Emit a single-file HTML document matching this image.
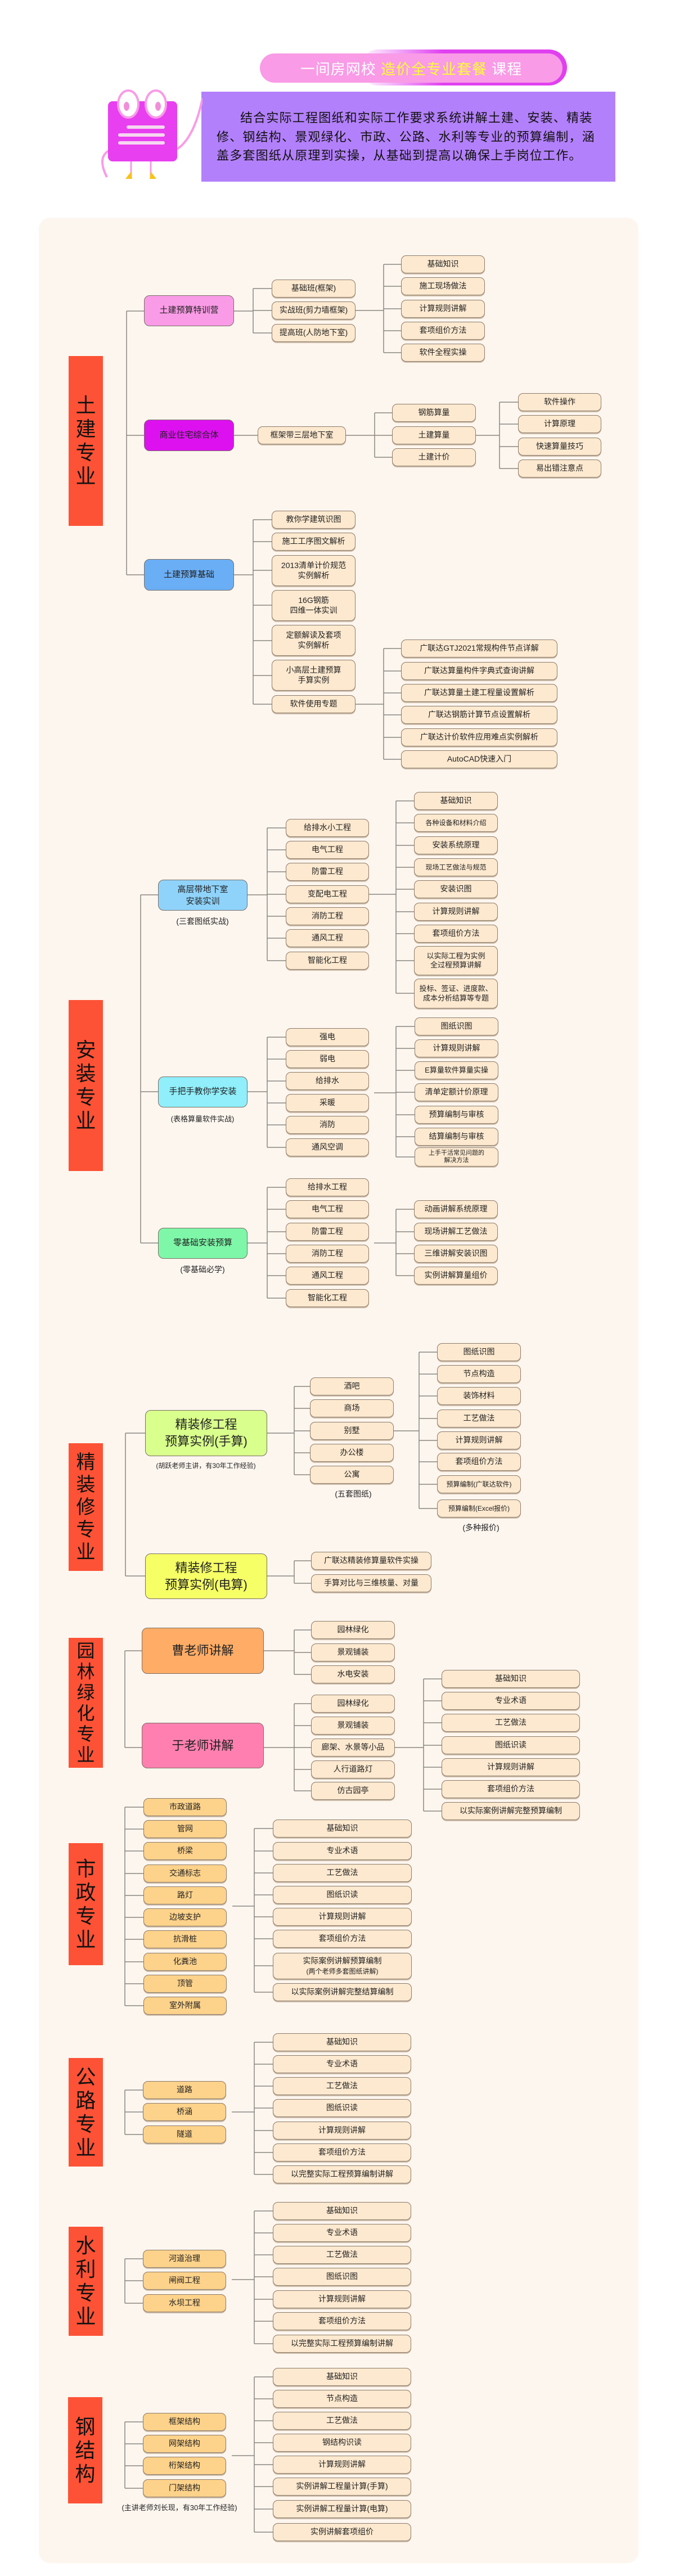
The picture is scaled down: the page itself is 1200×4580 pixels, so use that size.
<!DOCTYPE html>
<html><head><meta charset="utf-8">
<style>
*{margin:0;padding:0;box-sizing:border-box}
body{width:1200px;height:4580px;background:#fff;position:relative;font-family:"Liberation Sans","Noto Sans CJK SC",sans-serif;overflow:hidden}
.a{position:absolute}
.n{position:absolute;height:32px;background:#fde9cf;border:1px solid #8c7b6b;border-radius:9px;box-shadow:0 2px 0 #cdbda9;display:flex;align-items:center;justify-content:center;text-align:center;font-size:14px;color:#222;line-height:1.25;white-space:nowrap}
.o{background:#fdd28a}
.r{position:absolute;left:122px;width:61px;background:#fd5235;display:flex;flex-direction:column;align-items:center;justify-content:center;font-size:36px;line-height:42px;color:#111}
.l1{position:absolute;border:1px solid #7a6e64;border-radius:10px;display:flex;align-items:center;justify-content:center;text-align:center;font-size:15px;color:#222;line-height:1.5}
.big{font-size:22px;line-height:1.35}
.s{position:absolute;font-size:13px;color:#222;text-align:center;white-space:nowrap;transform:translateX(-50%)}
</style></head><body>

<!-- header -->
<div class="a" style="left:640px;top:88px;width:368px;height:64px;border-radius:32px;background:linear-gradient(90deg,rgba(224,64,240,0),#e040f0 40%)"></div>
<div class="a" style="left:462px;top:95px;width:538px;height:52px;border-radius:26px;background:#f99be6;display:flex;align-items:center;justify-content:center;font-size:26px;color:#fff;letter-spacing:1px">一间房网校&nbsp;<span style="color:#ffff33">造价全专业套餐</span>&nbsp;课程</div>
<div class="a" style="left:358px;top:163px;width:736px;height:160px;background:#b380fb"></div>
<div class="a" style="left:385px;top:193px;width:700px;font-size:22px;line-height:33.5px;letter-spacing:1.2px;color:#111;white-space:nowrap"><span style="padding-left:42px"></span>结合实际工程图纸和实际工作要求系统讲解土建、安装、精装<br>修、钢结构、景观绿化、市政、公路、水利等专业的预算编制，涵<br>盖多套图纸从原理到实操，从基础到提高以确保上手岗位工作。</div>
<svg class="a" style="left:160px;top:155px" width="200" height="170">
<path d="M40 110 Q10 120 30 160" stroke="#f99be6" stroke-width="4" fill="none"/>
<path d="M155 110 Q185 90 200 20" stroke="#f99be6" stroke-width="4" fill="none"/>
<rect x="32" y="25" width="123" height="107" rx="8" fill="#e83ff0"/>
<ellipse cx="68" cy="30" rx="18" ry="24" fill="#fff" stroke="#f99be6" stroke-width="4"/>
<ellipse cx="117" cy="30" rx="18" ry="24" fill="#fff" stroke="#f99be6" stroke-width="4"/>
<ellipse cx="65" cy="34" rx="5" ry="8" fill="#f08fd8"/>
<ellipse cx="121" cy="34" rx="5" ry="8" fill="#f08fd8"/>
<rect x="65" y="68" width="68" height="6" rx="3" fill="#f6d6f0"/>
<rect x="50" y="82" width="83" height="6" rx="3" fill="#f6d6f0"/>
<rect x="50" y="96" width="83" height="6" rx="3" fill="#f6d6f0"/>
<line x1="73" y1="132" x2="73" y2="158" stroke="#f99be6" stroke-width="3"/>
<line x1="108" y1="132" x2="108" y2="158" stroke="#f99be6" stroke-width="3"/>
<path d="M73 150 L63 163 L75 163Z" fill="#f8c21a"/>
<path d="M108 150 L118 163 L106 163Z" fill="#f8c21a"/>
</svg>

<!-- panel -->
<div class="a" style="left:69px;top:387px;width:1066px;height:4170px;background:#fdf6ef;border-radius:20px"></div>

<svg class="a" style="left:0;top:0" width="1200" height="4580" fill="none" stroke="#8a8580" stroke-width="1.5">
<path d="M225 553V1022M225 553H256M225 774H256M225 1022H256"/>
<path d="M416 553H450M450 513V592M450 513H483M450 552H483M450 592H483"/>
<path d="M632 552H682M682 470V627M682 470H713M682 509H713M682 549H713M682 588H713M682 627H713"/>
<path d="M416 774H458M615 774H666M666 734V813M666 734H697M666 774H697M666 813H697"/>
<path d="M846 774H888M888 715V833M888 715H921M888 754H921M888 794H921M888 833H921"/>
<path d="M416 1022H450M450 924V1252M450 924H483M450 963H483M450 1014H483M450 1076H483M450 1139H483M450 1201H483M450 1252H483"/>
<path d="M632 1252H682M682 1153V1350M682 1153H713M682 1193H713M682 1232H713M682 1271H713M682 1311H713M682 1350H713"/>

<path d="M250 1591V2210M250 1591H281M250 1941H281M250 2210H281"/>
<path d="M440 1591H475M475 1472V1708M475 1472H508M475 1511H508M475 1550H508M475 1590H508M475 1629H508M475 1668H508M475 1708H508"/>
<path d="M656 1590H704M704 1424V1766M704 1424H736M704 1463H736M704 1503H736M704 1542H736M704 1581H736M704 1621H736M704 1660H736M704 1708H736M704 1766H736"/>
<path d="M440 1941H475M475 1844V2040M475 1844H508M475 1883H508M475 1922H508M475 1961H508M475 2000H508M475 2040H508"/>
<path d="M665 1943H704M704 1825V2057M704 1825H737M704 1864H737M704 1903H737M704 1942H737M704 1982H737M704 2021H737M704 2057H737"/>
<path d="M440 2210H475M475 2111V2308M475 2111H508M475 2150H508M475 2190H508M475 2229H508M475 2268H508M475 2308H508"/>
<path d="M665 2210H704M704 2150V2268M704 2150H736M704 2190H736M704 2229H736M704 2268H736"/>

<path d="M223 2548V2802M223 2548H258M223 2802H258"/>
<path d="M475 2548H523M523 2465V2622M523 2465H551M523 2504H551M523 2544H551M523 2583H551M523 2622H551"/>
<path d="M700 2544H745M745 2404V2682M745 2404H777M745 2443H777M745 2482H777M745 2522H777M745 2561H777M745 2599H777M745 2639H777M745 2682H777"/>
<path d="M475 2802H523M523 2775V2815M523 2775H553M523 2815H553"/>

<path d="M222 2935V3107M222 2935H252M222 3107H252"/>
<path d="M469 2935H523M523 2898V2977M523 2898H553M523 2938H553M523 2977H553"/>
<path d="M469 3107H523M523 3029V3184M523 3029H553M523 3068H553M523 3107H553M523 3146H553M523 3184H553"/>
<path d="M702 3107H753M753 2985V3220M753 2985H785M753 3024H785M753 3063H785M753 3103H785M753 3142H785M753 3181H785M753 3220H785"/>

<path d="M222 3213V3566M222 3213H255M222 3252H255M222 3291H255M222 3331H255M222 3370H255M222 3409H255M222 3448H255M222 3488H255M222 3527H255M222 3566H255"/>
<path d="M413 3389H452M452 3251V3542M452 3251H485M452 3291H485M452 3330H485M452 3369H485M452 3408H485M452 3447H485M452 3495H485M452 3542H485"/>

<path d="M222 3716V3795M222 3716H254M222 3755H254M222 3795H254"/>
<path d="M412 3755H452M452 3631V3866M452 3631H485M452 3670H485M452 3709H485M452 3748H485M452 3788H485M452 3827H485M452 3866H485"/>

<path d="M222 4016V4095M222 4016H254M222 4055H254M222 4095H254"/>
<path d="M412 4053H452M452 3931V4167M452 3931H485M452 3970H485M452 4009H485M452 4048H485M452 4088H485M452 4127H485M452 4167H485"/>

<path d="M222 4306V4424M222 4306H254M222 4345H254M222 4384H254M222 4424H254"/>
<path d="M412 4366H452M452 4226V4502M452 4226H485M452 4265H485M452 4304H485M452 4343H485M452 4382H485M452 4421H485M452 4461H485M452 4502H485"/>
</svg>

<!-- 土建 -->
<div class="r" style="top:633px;height:302px"><div>土</div><div>建</div><div>专</div><div>业</div></div>
<div class="l1" style="left:256px;top:525px;width:160px;height:55px;background:#f99be6">土建预算特训营</div>
<div class="l1" style="left:256px;top:746px;width:160px;height:56px;background:#dd11f0">商业住宅综合体</div>
<div class="l1" style="left:256px;top:994px;width:160px;height:56px;background:#6aaef5">土建预算基础</div>
<div class="n" style="left:483px;top:497px;width:149px">基础班(框架)</div>
<div class="n" style="left:483px;top:536px;width:149px">实战班(剪力墙框架)</div>
<div class="n" style="left:483px;top:576px;width:149px">提高班(人防地下室)</div>
<div class="n" style="left:713px;top:454px;width:149px">基础知识</div>
<div class="n" style="left:713px;top:493px;width:149px">施工现场做法</div>
<div class="n" style="left:713px;top:533px;width:149px">计算规则讲解</div>
<div class="n" style="left:713px;top:572px;width:149px">套项组价方法</div>
<div class="n" style="left:713px;top:611px;width:149px">软件全程实操</div>
<div class="n" style="left:458px;top:758px;width:157px">框架带三层地下室</div>
<div class="n" style="left:697px;top:718px;width:149px">钢筋算量</div>
<div class="n" style="left:697px;top:758px;width:149px">土建算量</div>
<div class="n" style="left:697px;top:797px;width:149px">土建计价</div>
<div class="n" style="left:921px;top:699px;width:148px">软件操作</div>
<div class="n" style="left:921px;top:738px;width:148px">计算原理</div>
<div class="n" style="left:921px;top:778px;width:148px">快速算量技巧</div>
<div class="n" style="left:921px;top:817px;width:148px">易出错注意点</div>
<div class="n" style="left:483px;top:908px;width:149px">教你学建筑识图</div>
<div class="n" style="left:483px;top:947px;width:149px">施工工序图文解析</div>
<div class="n" style="left:483px;top:987px;width:149px;height:55px"><div>2013清单计价规范<br>实例解析</div></div>
<div class="n" style="left:483px;top:1049px;width:149px;height:55px"><div>16G钢筋<br>四维一体实训</div></div>
<div class="n" style="left:483px;top:1111px;width:149px;height:55px"><div>定额解读及套项<br>实例解析</div></div>
<div class="n" style="left:483px;top:1173px;width:149px;height:55px"><div>小高层土建预算<br>手算实例</div></div>
<div class="n" style="left:483px;top:1236px;width:149px">软件使用专题</div>
<div class="n" style="left:713px;top:1137px;width:278px">广联达GTJ2021常规构件节点详解</div>
<div class="n" style="left:713px;top:1177px;width:278px">广联达算量构件字典式查询讲解</div>
<div class="n" style="left:713px;top:1216px;width:278px">广联达算量土建工程量设置解析</div>
<div class="n" style="left:713px;top:1255px;width:278px">广联达钢筋计算节点设置解析</div>
<div class="n" style="left:713px;top:1295px;width:278px">广联达计价软件应用难点实例解析</div>
<div class="n" style="left:713px;top:1334px;width:278px">AutoCAD快速入门</div>

<!-- 安装 -->
<div class="r" style="top:1778px;height:304px"><div>安</div><div>装</div><div>专</div><div>业</div></div>
<div class="l1" style="left:281px;top:1564px;width:159px;height:55px;background:#8fd3fb;line-height:1.4"><div>高层带地下室<br>安装实训</div></div>
<div class="s" style="left:360px;top:1628px;font-size:14px">(三套图纸实战)</div>
<div class="l1" style="left:281px;top:1914px;width:159px;height:55px;background:#90effb">手把手教你学安装</div>
<div class="s" style="left:360px;top:1979px">(表格算量软件实战)</div>
<div class="l1" style="left:281px;top:2183px;width:159px;height:55px;background:#7ef7a8">零基础安装预算</div>
<div class="s" style="left:360px;top:2247px;font-size:14px">(零基础必学)</div>
<div class="n" style="left:508px;top:1456px;width:148px">给排水小工程</div>
<div class="n" style="left:508px;top:1495px;width:148px">电气工程</div>
<div class="n" style="left:508px;top:1534px;width:148px">防雷工程</div>
<div class="n" style="left:508px;top:1574px;width:148px">变配电工程</div>
<div class="n" style="left:508px;top:1613px;width:148px">消防工程</div>
<div class="n" style="left:508px;top:1652px;width:148px">通风工程</div>
<div class="n" style="left:508px;top:1692px;width:148px">智能化工程</div>
<div class="n" style="left:736px;top:1408px;width:149px">基础知识</div>
<div class="n" style="left:736px;top:1447px;width:149px;font-size:12px">各种设备和材料介绍</div>
<div class="n" style="left:736px;top:1487px;width:149px">安装系统原理</div>
<div class="n" style="left:736px;top:1526px;width:149px;font-size:12px">现场工艺做法与规范</div>
<div class="n" style="left:736px;top:1565px;width:149px">安装识图</div>
<div class="n" style="left:736px;top:1605px;width:149px">计算规则讲解</div>
<div class="n" style="left:736px;top:1644px;width:149px">套项组价方法</div>
<div class="n" style="left:736px;top:1682px;width:149px;height:52px;font-size:13px"><div>以实际工程为实例<br>全过程预算讲解</div></div>
<div class="n" style="left:736px;top:1740px;width:149px;height:53px;font-size:13px"><div>投标、签证、进度款、<br>成本分析结算等专题</div></div>
<div class="n" style="left:508px;top:1828px;width:148px">强电</div>
<div class="n" style="left:508px;top:1867px;width:148px">弱电</div>
<div class="n" style="left:508px;top:1906px;width:148px">给排水</div>
<div class="n" style="left:508px;top:1945px;width:148px">采暖</div>
<div class="n" style="left:508px;top:1984px;width:148px">消防</div>
<div class="n" style="left:508px;top:2024px;width:148px">通风空调</div>
<div class="n" style="left:737px;top:1809px;width:149px">图纸识图</div>
<div class="n" style="left:737px;top:1848px;width:149px">计算规则讲解</div>
<div class="n" style="left:737px;top:1887px;width:149px;font-size:13px">E算量软件算量实操</div>
<div class="n" style="left:737px;top:1926px;width:149px">清单定额计价原理</div>
<div class="n" style="left:737px;top:1966px;width:149px">预算编制与审核</div>
<div class="n" style="left:737px;top:2005px;width:149px">结算编制与审核</div>
<div class="n" style="left:737px;top:2040px;width:149px;height:34px;font-size:11px;line-height:1.2"><div>上手干活常见问题的<br>解决方法</div></div>
<div class="n" style="left:508px;top:2095px;width:148px">给排水工程</div>
<div class="n" style="left:508px;top:2134px;width:148px">电气工程</div>
<div class="n" style="left:508px;top:2174px;width:148px">防雷工程</div>
<div class="n" style="left:508px;top:2213px;width:148px">消防工程</div>
<div class="n" style="left:508px;top:2252px;width:148px">通风工程</div>
<div class="n" style="left:508px;top:2292px;width:148px">智能化工程</div>
<div class="n" style="left:736px;top:2134px;width:149px">动画讲解系统原理</div>
<div class="n" style="left:736px;top:2174px;width:149px">现场讲解工艺做法</div>
<div class="n" style="left:736px;top:2213px;width:149px">三维讲解安装识图</div>
<div class="n" style="left:736px;top:2252px;width:149px">实例讲解算量组价</div>

<!-- 精装修 -->
<div class="r" style="top:2566px;height:227px;line-height:40px;font-size:34px"><div>精</div><div>装</div><div>修</div><div>专</div><div>业</div></div>
<div class="l1 big" style="left:258px;top:2507px;width:217px;height:82px;background:#d9ff8c"><div>精装修工程<br>预算实例(手算)</div></div>
<div class="s" style="left:366px;top:2597px;font-size:12px">(胡跃老师主讲，有30年工作经验)</div>
<div class="l1 big" style="left:258px;top:2762px;width:217px;height:81px;background:#f6ff66"><div>精装修工程<br>预算实例(电算)</div></div>
<div class="n" style="left:551px;top:2449px;width:149px">酒吧</div>
<div class="n" style="left:551px;top:2488px;width:149px">商场</div>
<div class="n" style="left:551px;top:2528px;width:149px">别墅</div>
<div class="n" style="left:551px;top:2567px;width:149px">办公楼</div>
<div class="n" style="left:551px;top:2606px;width:149px">公寓</div>
<div class="s" style="left:628px;top:2646px;font-size:14px">(五套图纸)</div>
<div class="n" style="left:777px;top:2388px;width:149px">图纸识图</div>
<div class="n" style="left:777px;top:2427px;width:149px">节点构造</div>
<div class="n" style="left:777px;top:2466px;width:149px">装饰材料</div>
<div class="n" style="left:777px;top:2506px;width:149px">工艺做法</div>
<div class="n" style="left:777px;top:2545px;width:149px">计算规则讲解</div>
<div class="n" style="left:777px;top:2583px;width:149px">套项组价方法</div>
<div class="n" style="left:777px;top:2623px;width:149px;font-size:12px">预算编制(广联达软件)</div>
<div class="n" style="left:777px;top:2666px;width:149px;font-size:12px">预算编制(Excel报价)</div>
<div class="s" style="left:855px;top:2706px;font-size:14px">(多种报价)</div>
<div class="n" style="left:553px;top:2759px;width:214px">广联达精装修算量软件实操</div>
<div class="n" style="left:553px;top:2799px;width:214px">手算对比与三维核量、对量</div>

<!-- 园林 -->
<div class="r" style="top:2912px;height:231px;font-size:32px;line-height:37px"><div>园</div><div>林</div><div>绿</div><div>化</div><div>专</div><div>业</div></div>
<div class="l1 big" style="left:252px;top:2894px;width:217px;height:82px;background:#ffac66">曹老师讲解</div>
<div class="l1 big" style="left:252px;top:3063px;width:217px;height:81px;background:#ff80b0">于老师讲解</div>
<div class="n" style="left:553px;top:2882px;width:149px">园林绿化</div>
<div class="n" style="left:553px;top:2922px;width:149px">景观铺装</div>
<div class="n" style="left:553px;top:2961px;width:149px">水电安装</div>
<div class="n" style="left:553px;top:3013px;width:149px">园林绿化</div>
<div class="n" style="left:553px;top:3052px;width:149px">景观铺装</div>
<div class="n" style="left:553px;top:3091px;width:149px">廊架、水景等小品</div>
<div class="n" style="left:553px;top:3130px;width:149px">人行道路灯</div>
<div class="n" style="left:553px;top:3168px;width:149px">仿古园亭</div>
<div class="n" style="left:785px;top:2969px;width:246px">基础知识</div>
<div class="n" style="left:785px;top:3008px;width:246px">专业术语</div>
<div class="n" style="left:785px;top:3047px;width:246px">工艺做法</div>
<div class="n" style="left:785px;top:3087px;width:246px">图纸识读</div>
<div class="n" style="left:785px;top:3126px;width:246px">计算规则讲解</div>
<div class="n" style="left:785px;top:3165px;width:246px">套项组价方法</div>
<div class="n" style="left:785px;top:3204px;width:246px">以实际案例讲解完整预算编制</div>

<!-- 市政 -->
<div class="r" style="top:3277px;height:217px"><div>市</div><div>政</div><div>专</div><div>业</div></div>
<div class="n o" style="left:255px;top:3197px;width:148px">市政道路</div>
<div class="n o" style="left:255px;top:3236px;width:148px">管网</div>
<div class="n o" style="left:255px;top:3275px;width:148px">桥梁</div>
<div class="n o" style="left:255px;top:3315px;width:148px">交通标志</div>
<div class="n o" style="left:255px;top:3354px;width:148px">路灯</div>
<div class="n o" style="left:255px;top:3393px;width:148px">边坡支护</div>
<div class="n o" style="left:255px;top:3432px;width:148px">抗滑桩</div>
<div class="n o" style="left:255px;top:3472px;width:148px">化粪池</div>
<div class="n o" style="left:255px;top:3511px;width:148px">顶管</div>
<div class="n o" style="left:255px;top:3550px;width:148px">室外附属</div>
<div class="n" style="left:485px;top:3235px;width:247px">基础知识</div>
<div class="n" style="left:485px;top:3275px;width:247px">专业术语</div>
<div class="n" style="left:485px;top:3314px;width:247px">工艺做法</div>
<div class="n" style="left:485px;top:3353px;width:247px">图纸识读</div>
<div class="n" style="left:485px;top:3392px;width:247px">计算规则讲解</div>
<div class="n" style="left:485px;top:3431px;width:247px">套项组价方法</div>
<div class="n" style="left:485px;top:3472px;width:247px;height:47px;line-height:1.3"><div>实际案例讲解预算编制<br><span style="font-size:12px">(两个老师多套图纸讲解)</span></div></div>
<div class="n" style="left:485px;top:3526px;width:247px">以实际案例讲解完整结算编制</div>

<!-- 公路 -->
<div class="r" style="top:3659px;height:193px"><div>公</div><div>路</div><div>专</div><div>业</div></div>
<div class="n o" style="left:254px;top:3700px;width:148px">道路</div>
<div class="n o" style="left:254px;top:3739px;width:148px">桥涵</div>
<div class="n o" style="left:254px;top:3779px;width:148px">隧道</div>
<div class="n" style="left:485px;top:3615px;width:246px">基础知识</div>
<div class="n" style="left:485px;top:3654px;width:246px">专业术语</div>
<div class="n" style="left:485px;top:3693px;width:246px">工艺做法</div>
<div class="n" style="left:485px;top:3732px;width:246px">图纸识读</div>
<div class="n" style="left:485px;top:3772px;width:246px">计算规则讲解</div>
<div class="n" style="left:485px;top:3811px;width:246px">套项组价方法</div>
<div class="n" style="left:485px;top:3850px;width:246px">以完整实际工程预算编制讲解</div>

<!-- 水利 -->
<div class="r" style="top:3959px;height:194px"><div>水</div><div>利</div><div>专</div><div>业</div></div>
<div class="n o" style="left:254px;top:4000px;width:148px">河道治理</div>
<div class="n o" style="left:254px;top:4039px;width:148px">闸阀工程</div>
<div class="n o" style="left:254px;top:4079px;width:148px">水坝工程</div>
<div class="n" style="left:485px;top:3915px;width:246px">基础知识</div>
<div class="n" style="left:485px;top:3954px;width:246px">专业术语</div>
<div class="n" style="left:485px;top:3993px;width:246px">工艺做法</div>
<div class="n" style="left:485px;top:4032px;width:246px">图纸识图</div>
<div class="n" style="left:485px;top:4072px;width:246px">计算规则讲解</div>
<div class="n" style="left:485px;top:4111px;width:246px">套项组价方法</div>
<div class="n" style="left:485px;top:4151px;width:246px">以完整实际工程预算编制讲解</div>

<!-- 钢结构 -->
<div class="r" style="left:121px;top:4262px;height:189px"><div>钢</div><div>结</div><div>构</div></div>
<div class="n o" style="left:254px;top:4290px;width:148px">框架结构</div>
<div class="n o" style="left:254px;top:4329px;width:148px">网架结构</div>
<div class="n o" style="left:254px;top:4368px;width:148px">桁架结构</div>
<div class="n o" style="left:254px;top:4408px;width:148px">门架结构</div>
<div class="s" style="left:319px;top:4448px;font-size:13px">(主讲老师刘长现，有30年工作经验)</div>
<div class="n" style="left:485px;top:4210px;width:246px">基础知识</div>
<div class="n" style="left:485px;top:4249px;width:246px">节点构造</div>
<div class="n" style="left:485px;top:4288px;width:246px">工艺做法</div>
<div class="n" style="left:485px;top:4327px;width:246px">钢结构识读</div>
<div class="n" style="left:485px;top:4366px;width:246px">计算规则讲解</div>
<div class="n" style="left:485px;top:4405px;width:246px">实例讲解工程量计算(手算)</div>
<div class="n" style="left:485px;top:4445px;width:246px">实例讲解工程量计算(电算)</div>
<div class="n" style="left:485px;top:4486px;width:246px">实例讲解套项组价</div>

</body></html>
